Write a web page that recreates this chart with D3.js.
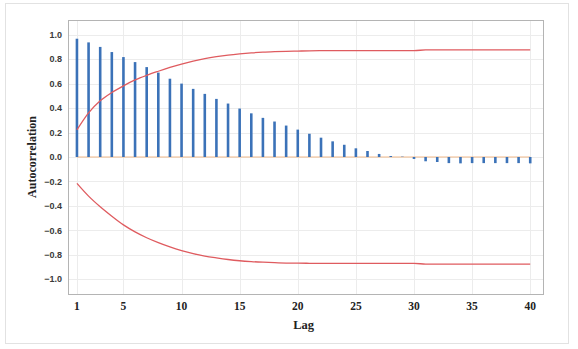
<!DOCTYPE html>
<html>
<head>
<meta charset="utf-8">
<script src="https://cdn.jsdelivr.net/npm/d3@7"></script>
<style>
  body { margin: 0; background: #fff; }
</style>
</head>
<body>
<svg></svg>
<script>
// lags 1..40
var lags = d3.range(1, 41);

// autocorrelation values
var acf = [0.967, 0.937, 0.900, 0.858, 0.817, 0.776, 0.735, 0.690, 0.640, 0.600,
           0.557, 0.516, 0.475, 0.437, 0.396, 0.357, 0.320, 0.290, 0.257, 0.224,
           0.190, 0.158, 0.128, 0.100, 0.071, 0.049, 0.025, 0.008, 0.003, -0.016,
           -0.035, -0.041, -0.050, -0.052, -0.050, -0.050, -0.050, -0.050, -0.050, -0.052];

// significance limits
var upperLimit = [0.221, 0.360, 0.459, 0.527, 0.582, 0.630, 0.668, 0.701, 0.732, 0.760,
                  0.784, 0.804, 0.820, 0.833, 0.843, 0.851, 0.857, 0.861, 0.864, 0.866,
                  0.868, 0.869, 0.870, 0.870, 0.870, 0.870, 0.870, 0.870, 0.870, 0.870,
                  0.875, 0.876, 0.876, 0.876, 0.876, 0.876, 0.876, 0.876, 0.876, 0.876];
var lowerLimit = [-0.216, -0.320, -0.407, -0.484, -0.555, -0.612, -0.660, -0.700, -0.735, -0.765,
                  -0.790, -0.810, -0.825, -0.838, -0.848, -0.855, -0.860, -0.864, -0.867, -0.868,
                  -0.869, -0.870, -0.870, -0.870, -0.870, -0.870, -0.870, -0.870, -0.870, -0.870,
                  -0.875, -0.876, -0.876, -0.876, -0.876, -0.876, -0.876, -0.876, -0.876, -0.876];

var xTicks = [1, 5, 10, 15, 20, 25, 30, 35, 40];
var yTicks = [-1.0, -0.8, -0.6, -0.4, -0.2, 0.0, 0.2, 0.4, 0.6, 0.8, 1.0];

document.addEventListener("DOMContentLoaded", (event) => {
    drawChart();
});

function drawChart() {
    var svgWidth = 578, svgHeight = 349;
    var margin = { top: 20, right: 35, bottom: 55, left: 68 };
    var width = svgWidth - margin.left - margin.right;
    var height = svgHeight - margin.top - margin.bottom;

    var svg = d3.select('svg')
        .attr('width', svgWidth)
        .attr('height', svgHeight);

    // outer light frame
    svg.append('rect')
        .attr('x', 5.5).attr('y', 3.5)
        .attr('width', 563).attr('height', 340)
        .attr('fill', 'none')
        .attr('stroke', '#e2e2e2');

    var g = svg.append('g')
        .attr('transform', 'translate(' + margin.left + ',' + margin.top + ')');

    var x = d3.scaleLinear().domain([0.23, 41.1]).range([0, width]);
    var y = d3.scaleLinear().domain([-1.12, 1.12]).range([height, 0]);

    // grid
    g.append('g').selectAll('line').data(yTicks).join('line')
        .attr('x1', 0).attr('x2', width)
        .attr('y1', d => Math.round(y(d)) + 0.5).attr('y2', d => Math.round(y(d)) + 0.5)
        .attr('stroke', '#ececec');
    g.append('g').selectAll('line').data(xTicks).join('line')
        .attr('y1', 0).attr('y2', height)
        .attr('x1', d => Math.round(x(d)) + 0.5).attr('x2', d => Math.round(x(d)) + 0.5)
        .attr('stroke', '#ececec');

    // frame
    g.append('rect')
        .attr('x', 0.5).attr('y', 0.5)
        .attr('width', width).attr('height', height)
        .attr('fill', 'none')
        .attr('stroke', '#b4b4b4');

    // zero line
    g.append('line')
        .attr('x1', x(1)).attr('x2', x(40))
        .attr('y1', y(0)).attr('y2', y(0))
        .attr('stroke', '#f0b98a').attr('stroke-width', 1);

    // bars
    g.append('g').selectAll('line').data(acf).join('line')
        .attr('x1', (d, i) => x(lags[i])).attr('x2', (d, i) => x(lags[i]))
        .attr('y1', y(0)).attr('y2', d => y(d))
        .attr('stroke', '#3b72b8')
        .attr('stroke-width', 2.6);

    // limits
    var line = d3.line()
        .x((d, i) => x(lags[i]))
        .y(d => y(d))
        .curve(d3.curveMonotoneX);

    [upperLimit, lowerLimit].forEach(function (arr) {
        g.append('path')
            .datum(arr)
            .attr('fill', 'none')
            .attr('stroke', '#df5b5f')
            .attr('stroke-width', 1.3)
            .attr('d', line);
    });

    // y tick labels
    g.append('g').selectAll('text').data(yTicks).join('text')
        .attr('x', -6).attr('y', d => y(d))
        .attr('dy', '0.35em')
        .attr('text-anchor', 'end')
        .attr('font-family', 'Liberation Sans, Arial, sans-serif')
        .attr('font-weight', 'bold')
        .attr('font-size', 9)
        .attr('fill', '#3a3a3a')
        .text(d => d3.format('.1f')(d));

    // x tick labels
    g.append('g').selectAll('text').data(xTicks).join('text')
        .attr('x', d => x(d)).attr('y', height + 16)
        .attr('text-anchor', 'middle')
        .attr('font-family', 'Liberation Serif, Times New Roman, serif')
        .attr('font-weight', 'bold')
        .attr('font-size', 11.5)
        .attr('fill', '#222')
        .text(d => d);

    // axis titles
    g.append('text')
        .attr('x', x(20.5)).attr('y', height + 35)
        .attr('text-anchor', 'middle')
        .attr('font-family', 'Liberation Serif, Times New Roman, serif')
        .attr('font-weight', 'bold')
        .attr('font-size', 12.5)
        .attr('fill', '#222')
        .text('Lag');

    g.append('text')
        .attr('transform', 'translate(' + (-32) + ',' + y(0) + ') rotate(-90)')
        .attr('text-anchor', 'middle')
        .attr('font-family', 'Liberation Serif, Times New Roman, serif')
        .attr('font-weight', 'bold')
        .attr('font-size', 12)
        .attr('fill', '#222')
        .text('Autocorrelation');
}
</script>
</body>
</html>
